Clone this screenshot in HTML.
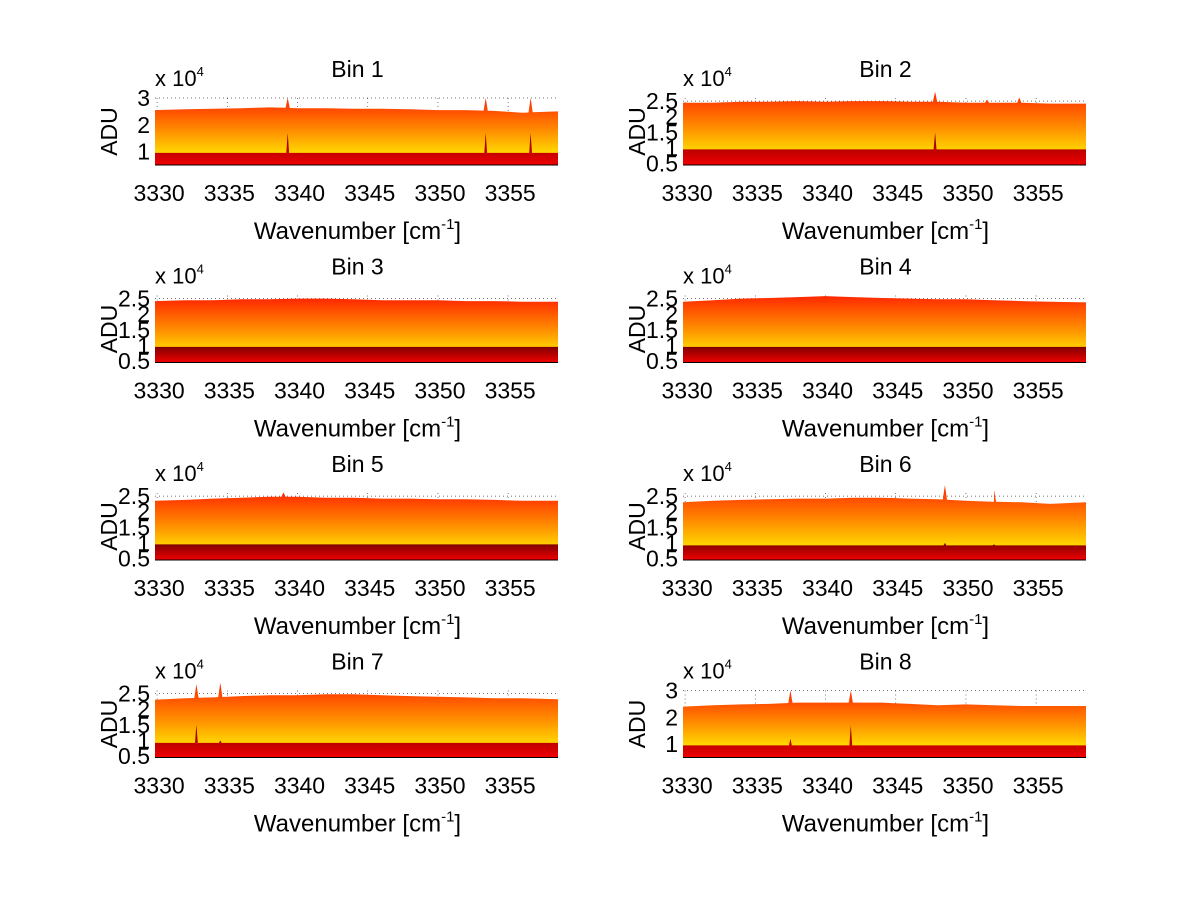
<!DOCTYPE html>
<html><head><meta charset="utf-8"><style>
html,body{margin:0;padding:0;background:#fff;}
svg{display:block;font-family:"Liberation Sans",sans-serif;}
</style></head><body>
<svg id="fig" width="1200" height="901" viewBox="0 0 1200 901" xmlns="http://www.w3.org/2000/svg">
<defs>
<linearGradient id="gUp" x1="0" y1="1" x2="0" y2="0">
<stop offset="0" stop-color="#ffff20"/><stop offset="0.15" stop-color="#ffe000"/><stop offset="0.5" stop-color="#ff9000"/><stop offset="1" stop-color="#ff2800"/>
</linearGradient>
<linearGradient id="gLo" x1="0" y1="1" x2="0" y2="0">
<stop offset="0" stop-color="#f00000"/><stop offset="1" stop-color="#800000"/>
</linearGradient>
</defs>
<rect width="1200" height="901" fill="#fff"/>
</svg>
<script>
const binNames=["Bin 1","Bin 2","Bin 3","Bin 4","Bin 5","Bin 6","Bin 7","Bin 8"];
const xTicks=[3330,3335,3340,3345,3350,3355];
const xSamples=[3329.85,3332,3334,3336,3338,3340,3342,3344,3346,3348,3350,3352,3354,3356,3358.55];
const upper1=[2.55,2.58,2.6,2.62,2.65,2.62,2.62,2.6,2.6,2.58,2.55,2.55,2.52,2.45,2.5];
const upper2=[2.45,2.45,2.48,2.48,2.5,2.48,2.5,2.5,2.48,2.48,2.45,2.45,2.45,2.42,2.42];
const upper3=[2.42,2.45,2.45,2.48,2.48,2.5,2.5,2.48,2.45,2.45,2.45,2.42,2.42,2.4,2.4];
const upper4=[2.4,2.45,2.5,2.52,2.55,2.58,2.55,2.52,2.5,2.48,2.48,2.45,2.42,2.4,2.38];
const upper5=[2.35,2.38,2.42,2.45,2.48,2.48,2.45,2.45,2.42,2.42,2.4,2.4,2.38,2.35,2.35];
const upper6=[2.3,2.35,2.38,2.4,2.42,2.42,2.45,2.45,2.42,2.4,2.35,2.32,2.3,2.25,2.3];
const upper7=[2.3,2.35,2.38,2.42,2.45,2.45,2.48,2.48,2.45,2.42,2.4,2.38,2.35,2.35,2.32];
const upper8=[2.4,2.45,2.48,2.5,2.55,2.55,2.55,2.55,2.5,2.45,2.48,2.45,2.42,2.42,2.42];
const uppers=[upper1,upper2,upper3,upper4,upper5,upper6,upper7,upper8];
const lowerLevel=[0.95,0.95,0.95,0.95,0.95,0.92,0.92,0.95];
const spikeX=[[3339.3,3353.4,3356.6],[3347.8,3351.5,3353.8],[],[],[3339.0],[3348.5,3352.0],[3332.8,3334.5],[3337.5,3341.8]];
const spikeTop=[[3.0,3.0,3.0],[2.8,2.55,2.62],[],[],[2.62],[2.85,2.7],[2.8,2.85],[3.0,3.0]];
const spikeLow=[[1.7,1.7,1.7],[1.5,0.95,0.95],[],[],[0.95],[1.0,0.95],[1.5,1.0],[1.2,1.7]];
const yTicksBig=[1,2,3];
const yTicksSmall=[0.5,1,1.5,2,2.5];

const svg=document.getElementById('fig');
const NS="http://www.w3.org/2000/svg";
function mk(tag,attrs,parent){const e=document.createElementNS(NS,tag);for(const k in attrs)e.setAttribute(k,attrs[k]);(parent||svg).appendChild(e);return e;}
const XMIN=3329.85,XMAX=3358.55;
for(let b=0;b<8;b++){
  const col=b%2,row=Math.floor(b/2);
  const L=col?683:155,R=col?1086:558,T=98+row*197.5,B=T+67;
  const big=(b===0||b===7);
  const ymin=big?0.5:0.45,ymax=big?3.0:2.6;
  const yt=big?yTicksBig:yTicksSmall;
  const sx=v=>L+(v-XMIN)/(XMAX-XMIN)*(R-L);
  const sy=v=>B-(v-ymin)/(ymax-ymin)*(B-T);
  const g=mk('g',{});
  
  
  xTicks.forEach(t=>{const l=mk('line',{x1:sx(t),x2:sx(t),y1:T,y2:B,stroke:'#444','stroke-width':0.7,'stroke-dasharray':'1,3'},g);});
  yt.forEach(t=>{const l=mk('line',{x1:L,x2:R,y1:sy(t),y2:sy(t),stroke:'#444','stroke-width':0.7,'stroke-dasharray':'1,3'},g);});
  const up=uppers[b];
  let pts=[];
  for(let i=0;i<xSamples.length;i++)pts.push([xSamples[i],up[i]]);
  const interp=x=>{for(let i=0;i<xSamples.length-1;i++)if(x<=xSamples[i+1]){const f=(x-xSamples[i])/(xSamples[i+1]-xSamples[i]);return up[i]+f*(up[i+1]-up[i]);}return up[up.length-1];};
  spikeX[b].forEach((x,k)=>{pts.push([x-0.15,interp(x-0.15)],[x,spikeTop[b][k]],[x+0.15,interp(x+0.15)]);});
  pts.sort((a,c)=>a[0]-c[0]);
  let d='M'+sx(XMIN)+','+B;pts.forEach(p=>d+=' L'+sx(p[0]).toFixed(1)+','+sy(p[1]).toFixed(1));d+=' L'+sx(XMAX)+','+B+' Z';
  const pu=mk('path',{d:d,fill:'url(#gUp)'},g);
  let lp=[[XMIN,lowerLevel[b]]];
  spikeX[b].forEach((x,k)=>{lp.push([x-0.1,lowerLevel[b]],[x,spikeLow[b][k]],[x+0.1,lowerLevel[b]]);});
  lp.push([XMAX,lowerLevel[b]]);
  let d2='M'+sx(XMIN)+','+B;lp.forEach(p=>d2+=' L'+sx(p[0]).toFixed(1)+','+sy(p[1]).toFixed(1));d2+=' L'+sx(XMAX)+','+B+' Z';
  const pl=mk('path',{d:d2,fill:'url(#gLo)'},g);
  const bl=mk('line',{x1:L,x2:R,y1:B,y2:B,stroke:'#000','stroke-width':1},g);
  xTicks.forEach(t=>{const tx=mk('text',{x:sx(t)+2,y:B+36,'font-size':23,'text-anchor':'middle'},g);tx.textContent=t;});
  yt.forEach(t=>{const tx=mk('text',{x:L-5,y:sy(t)+8,'font-size':23,'text-anchor':'end'},g);tx.textContent=t;});
  const ex=mk('text',{x:L,y:T-12,'font-size':22},g);ex.innerHTML='x 10<tspan dy="-10" font-size="13">4</tspan>';
  const ti=mk('text',{x:(L+R)/2+1,y:T-21,'font-size':23,'text-anchor':'middle'},g);ti.textContent=binNames[b];
  const xl=mk('text',{x:(L+R)/2+1,y:B+74,'font-size':24,'text-anchor':'middle'},g);xl.innerHTML='Wavenumber [cm<tspan dy="-10" font-size="15">-1</tspan><tspan dy="10">]</tspan>';
  const yl=mk('text',{x:0,y:0,'font-size':23,'text-anchor':'middle',transform:'translate('+(L-38)+','+((T+B)/2)+') rotate(-90)'},g);yl.textContent='ADU';
}
</script>
</body></html>
